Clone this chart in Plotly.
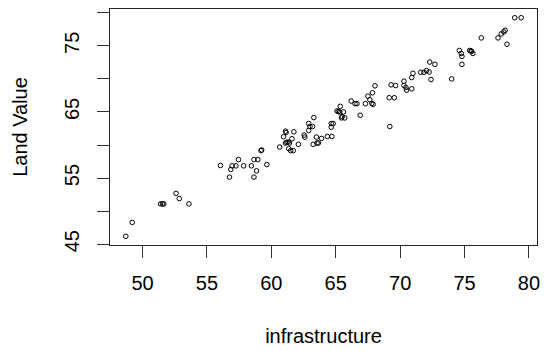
import plotly.graph_objects as go

# infrastructure score vs land value, one point per observation
infrastructure = [
    48.7, 49.2, 51.4, 51.55, 51.65, 52.6, 52.85, 53.6,
    56.05, 56.75, 56.85, 56.95, 57.25, 57.45, 57.85, 58.45, 58.65, 58.95,
    58.85, 58.65, 59.2, 59.25, 59.65, 60.65, 60.95, 61.15, 61.2, 61.1,
    61.3, 61.4, 61.35, 61.5, 61.7, 61.1, 61.75, 61.6, 62.1, 62.55,
    62.6, 62.9, 63.0, 63.2, 62.9, 63.3, 63.5, 63.9, 64.35, 64.7,
    63.25, 63.55, 63.65, 64.65, 64.8, 64.65, 65.35, 65.1, 65.2, 65.3,
    65.6, 65.5, 65.45, 65.7, 66.2, 66.5, 66.65, 66.9, 67.3, 67.5,
    67.65, 67.8, 67.9, 67.85, 68.05, 69.3, 69.65, 69.15, 69.55, 69.2,
    70.3, 70.3, 70.45, 70.5, 70.9, 70.9, 71.0, 71.6, 71.85, 72.05,
    72.25, 72.3, 72.7, 72.4, 74.0, 74.6, 74.75, 74.8, 74.8, 75.4,
    75.5, 75.55, 75.65, 76.3, 77.6, 77.85, 78.05, 78.15, 78.3, 78.9,
    79.4,
]
land_value = [
    46.2, 48.3, 51.1, 51.1, 51.1, 52.7, 51.9, 51.1,
    56.9, 55.15, 56.3, 56.85, 56.85, 57.8, 56.85, 56.85, 57.8, 57.8,
    56.1, 55.15, 59.15, 59.25, 57.05, 59.7, 61.25, 61.9, 60.4, 60.3,
    60.45, 60.3, 59.45, 59.15, 59.15, 62.1, 62.0, 60.95, 60.1, 61.5,
    61.2, 63.25, 62.8, 62.8, 62.2, 64.15, 61.2, 61.0, 61.3, 61.3,
    60.1, 60.3, 60.3, 63.25, 63.25, 62.7, 65.85, 65.15, 65.05, 65.0,
    65.0, 64.3, 64.1, 64.1, 66.65, 66.25, 66.25, 64.5, 66.25, 67.4,
    66.85, 66.3, 66.15, 67.9, 68.95, 69.1, 69.0, 67.15, 67.15, 62.8,
    69.65, 69.0, 68.7, 68.3, 68.5, 70.2, 70.85, 71.0, 71.0, 71.25,
    71.05, 72.55, 72.2, 69.9, 70.0, 74.3, 73.85, 73.4, 72.2, 74.3,
    74.25, 74.15, 73.85, 76.2, 76.2, 76.8, 77.1, 77.35, 75.25, 79.25,
    79.25,
]

x_ticks = [50, 55, 60, 65, 70, 75, 80]
y_ticks = [45, 50, 55, 60, 65, 70, 75, 80]
y_tick_labels = ["45", "", "55", "", "65", "", "75", ""]


def padded_range(values, frac=0.04):
    lo, hi = min(values), max(values)
    pad = (hi - lo) * frac
    return [lo - pad, hi + pad]


font = dict(family="Liberation Sans, Arial, sans-serif", size=20, color="#000000")

fig = go.Figure(
    go.Scatter(
        x=infrastructure,
        y=land_value,
        mode="markers",
        marker=dict(symbol="circle-open", size=4.6, color="#000000",
                    line=dict(width=1, color="#000000")),
        showlegend=False,
    )
)

axis_common = dict(
    showgrid=False,
    zeroline=False,
    showline=True,
    mirror=True,
    linecolor="#222222",
    linewidth=1.3,
    ticks="outside",
    ticklen=12,
    tickwidth=1.3,
    tickcolor="#333333",
    tickfont=font,
)

fig.update_layout(
    width=548,
    height=351,
    margin=dict(l=110, r=10, t=8, b=100),
    paper_bgcolor="white",
    plot_bgcolor="white",
    font=font,
    xaxis=dict(
        range=padded_range(infrastructure),
        tickvals=x_ticks,
        ticktext=[str(v) for v in x_ticks],
        ticklabelstandoff=8,
        title=dict(text="infrastructure", font=font, standoff=35),
        **axis_common,
    ),
    yaxis=dict(
        range=padded_range(land_value),
        tickvals=y_ticks,
        ticktext=y_tick_labels,
        tickangle=-90,
        ticklabelstandoff=10,
        title=dict(text="Land Value", font=font, standoff=27),
        **axis_common,
    ),
)

fig.write_html("out.html")
